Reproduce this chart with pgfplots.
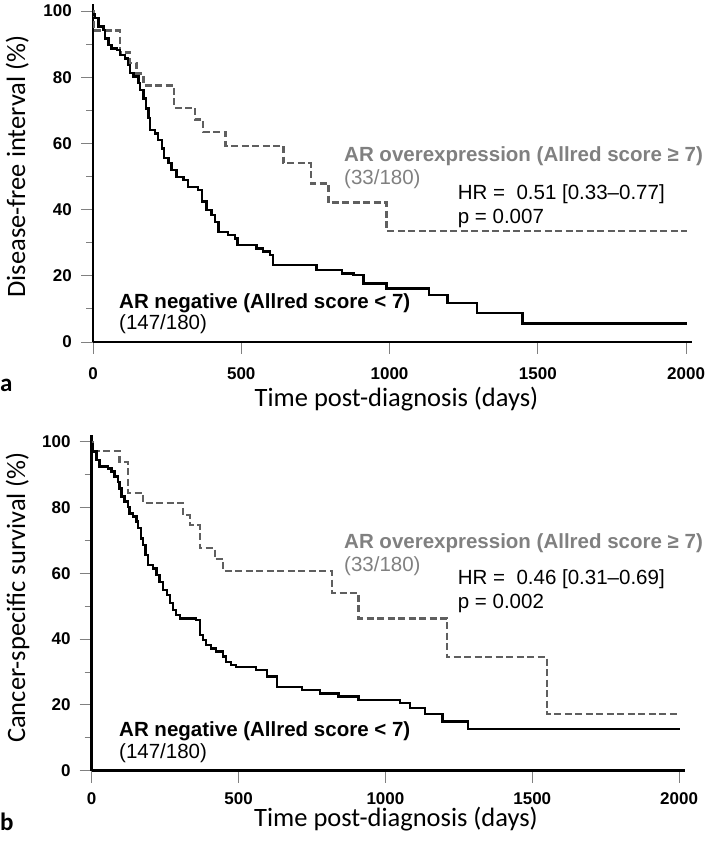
\documentclass[border=0pt]{standalone}
\usepackage{pgfplots}
\pgfplotsset{compat=1.18}
\usepackage{fontspec}
\setmainfont{Liberation Sans}
\newfontfamily\carlito{Carlito}

\definecolor{dashgray}{RGB}{95,95,95}
\definecolor{txtgray}{RGB}{128,128,128}

% disease-free interval, AR overexpression (days, %)
\pgfplotstableread{
d v
0 100
3 94.1
91 87.5
125 84.3
147 81.1
170 77.5
272 70.8
345 67.2
371 63.4
447 59.3
642 54.0
735 47.9
794 42.1
990 33.5
2002 33.5
}\dfiHigh

% disease-free interval, AR negative
\pgfplotstableread{
d v
0 99
7 97.8
18 95.3
35 94.3
40 91.7
52 89.7
63 88.7
80 88.2
91 86.7
108 85.7
119 83.7
125 81.2
136 80.2
153 78.2
159 76.1
170 73.6
179 70.6
187 67.6
192 64.0
209 63.0
220 61.0
232 58.5
239 55.5
254 54.0
265 52.0
282 49.9
305 48.9
321 46.9
355 45.9
367 42.4
383 39.9
400 38.4
411 36.3
423 33.3
456 32.3
479 31.3
487 29.3
552 28.3
574 27.3
597 26.3
608 23.3
754 21.8
839 20.7
878 20.2
912 17.7
990 16.2
1134 14.2
1195 11.7
1294 8.7
1449 5.6
2002 5.6
}\dfiNeg

% cancer-specific survival, AR overexpression
\pgfplotstableread{
d v
0 100
4 97.2
95 93.9
124 84.3
175 81.3
311 77.7
334 74.7
368 67.6
419 64.3
447 60.7
817 54.1
908 46.3
1209 34.5
1549 17.2
2003 17.2
}\cssHigh

% cancer-specific survival, AR negative
\pgfplotstableread{
d v
0 99.3
4 97.0
16 94.4
27 92.4
55 91.9
67 90.9
78 89.4
90 87.8
95 85.8
101 83.3
112 81.8
124 80.2
129 78.2
141 77.2
152 75.7
158 73.7
167 70.6
175 68.6
183 65.6
192 62.5
209 61.5
220 59.5
231 57.4
243 54.9
256 53.4
266 50.9
277 48.8
288 47.3
300 46.3
356 45.8
368 41.2
379 39.7
390 38.2
407 37.2
424 36.2
447 34.7
458 33.1
475 32.1
492 31.6
560 30.6
596 28.6
630 25.5
715 24.5
777 23.5
840 22.5
908 21.5
1050 20.5
1084 19.0
1135 17.2
1195 14.9
1282 12.6
2003 12.6
}\cssNeg

\pgfplotsset{
  kmaxis/.style={
    scale only axis, anchor=south west,
    xmin=0, xmax=2020, ymin=0, ymax=102,
    axis x line=bottom, axis y line=left,
    axis line style={line width=2.4bp, -},
    xtick={0,500,1000,1500,2000},
    xticklabels={0,500,1000,1500,2000},
    ytick={0,20,40,60,80,100},
    yticklabels={0,20,40,60,80,100},
    minor ytick={10,30,50,70,90},
    tick align=outside,
    major tick length=12bp, minor tick length=7bp,
    tick style={line width=0.9bp, color=gray},
    ticklabel style={font=\bfseries\fontsize{17bp}{17bp}\selectfont},
    yticklabel style={anchor=east, inner sep=0pt, xshift=-9bp},
    clip=false,
  },
  neg/.style={const plot, no marks, black, line width=2.4bp},
  high/.style={const plot, no marks, dashgray, line width=2.3bp, dash pattern=on 7bp off 3.5bp},
}

\newcommand{\annfont}{\fontsize{20.5bp}{22bp}\selectfont}
\newcommand{\labfont}{\carlito\fontsize{26.5bp}{28bp}\selectfont}
\newcommand{\panfont}{\carlito\bfseries\fontsize{25bp}{27bp}\selectfont}

\begin{document}
\begin{tikzpicture}
\path[use as bounding box] (0,0) rectangle (709bp,841bp);

% panel a
\begin{axis}[kmaxis, at={(93bp,499bp)}, width=599bp, height=337.6bp,
  xticklabel style={anchor=north, inner sep=0pt, yshift=-13bp}]
  \addplot[high] table[x=d, y=v] {\dfiHigh};
  \addplot[neg] table[x=d, y=v] {\dfiNeg};
\end{axis}

% panel b
\begin{axis}[kmaxis, at={(91.7bp,70.3bp)}, width=593.3bp, height=335.6bp,
  xticklabel style={anchor=north, inner sep=0pt, yshift=-10bp}]
  \addplot[high] table[x=d, y=v] {\cssHigh};
  \addplot[neg] table[x=d, y=v] {\cssNeg};
\end{axis}

\begin{scope}[every node/.style={inner sep=0pt, anchor=base west}]
  % axis labels
  \node[rotate=90, anchor=base, font=\labfont] at (25bp,674.5bp) {Disease-free interval (\%)};
  \node[anchor=base, font=\labfont] at (396.5bp,434.3bp) {Time post-diagnosis (days)};
  \node[rotate=90, anchor=base, font=\labfont] at (25bp,243.5bp) {Cancer-specific survival (\%)};
  \node[anchor=base, font=\labfont] at (396bp,14.5bp) {Time post-diagnosis (days)};
  \node[font=\panfont] at (0bp,449.3bp) {a};
  \node[font=\panfont] at (0bp,11bp) {b};

  % annotations a
  \node[font=\annfont\bfseries, txtgray] at (344bp,679.3bp) {AR overexpression (Allred score ≥ 7)};
  \node[font=\annfont, txtgray] at (344bp,656bp) {(33/180)};
  \node[font=\annfont] at (457.7bp,641bp) {HR =\ \ 0.51 [0.33--0.77]};
  \node[font=\annfont] at (457.7bp,617.7bp) {p = 0.007};
  \node[font=\annfont\bfseries] at (119bp,532.7bp) {AR negative (Allred score < 7)};
  \node[font=\annfont] at (119bp,511bp) {(147/180)};

  % annotations b
  \node[font=\annfont\bfseries, txtgray] at (344bp,292.7bp) {AR overexpression (Allred score ≥ 7)};
  \node[font=\annfont, txtgray] at (344bp,269.3bp) {(33/180)};
  \node[font=\annfont] at (457.7bp,256bp) {HR =\ \ 0.46 [0.31--0.69]};
  \node[font=\annfont] at (457.7bp,232.7bp) {p = 0.002};
  \node[font=\annfont\bfseries] at (119bp,104.3bp) {AR negative (Allred score < 7)};
  \node[font=\annfont] at (119bp,82.7bp) {(147/180)};
\end{scope}
\end{tikzpicture}
\end{document}
